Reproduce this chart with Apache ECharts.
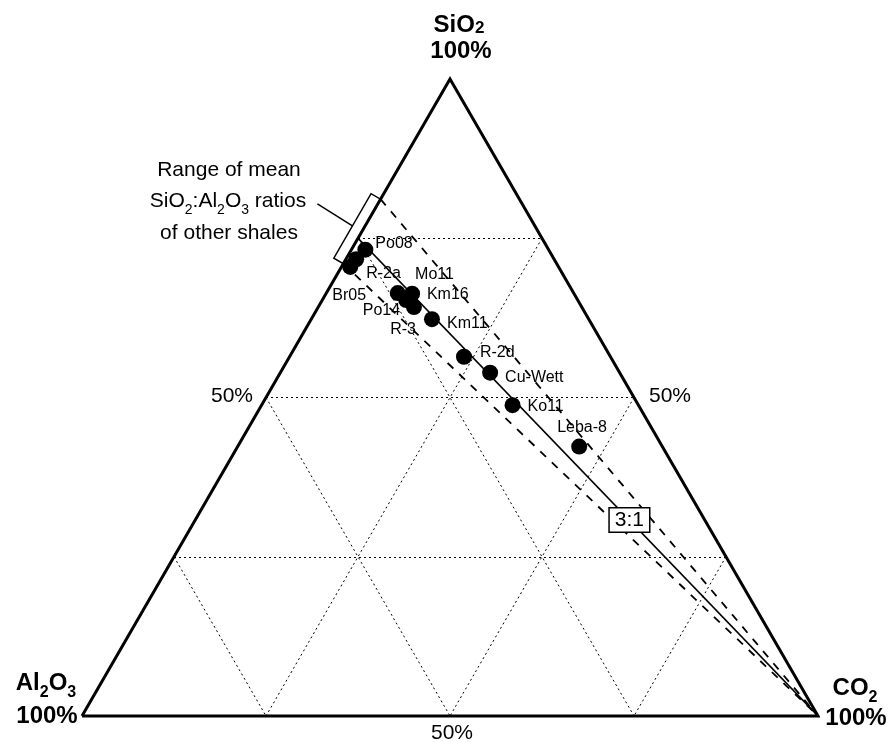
<!DOCTYPE html>
<html>
<head>
<meta charset="utf-8">
<style>
  html, body { margin: 0; padding: 0; background: #fff; }
  #chart { width: 894px; height: 742px; }
</style>
<script src="https://cdn.jsdelivr.net/npm/echarts@6/dist/echarts.min.js"></script>
</head>
<body>
<div id="chart"></div>
<script>
// sample compositions in %
const samples = ['Po08', 'R-2a', 'Br05', 'Po14', 'Mo11', 'R-3', 'Km16', 'Km11', 'R-2d', 'Cu-Wett', 'Ko11', 'Leba-8']
const sio2  = [73.2, 71.7, 70.5, 66.4, 66.3, 65.3, 64.2, 62.3, 56.4, 53.9, 48.8, 42.3]
const al2o3 = [24.9, 26.9, 28.3, 23.9, 22.0, 23.3, 22.8, 21.3, 19.9, 17.6, 17.1, 11.3]
const co2   = [ 1.9,  1.4,  1.2,  9.7, 11.7, 11.4, 13.0, 16.4, 23.7, 28.5, 34.1, 46.4]

const gridLevels = [25, 50, 75]      // dotted guide lines, %
const refRatio = 3                   // SiO2:Al2O3 of the solid line
const shaleRatios = [2.45, 4.3]      // range of mean SiO2:Al2O3 of other shales
const refTagCO2 = 59                 // CO2 % where the "3:1" tag sits

// label offsets (px from dot centre to label left / middle)
const labelOffset = {
  'Po08': [10, -6], 'R-2a': [10, 14], 'Br05': [-18, 29], 'Po14': [-35, 18],
  'Mo11': [3, -19], 'R-3': [-16, 30], 'Km16': [13, -12], 'Km11': [15, 4],
  'R-2d': [16, -4], 'Cu-Wett': [15, 5], 'Ko11': [15, 1], 'Leba-8': [-22, -19]
}

const H = Math.sqrt(3) / 2
// ternary -> cartesian (Al2O3 bottom-left, CO2 bottom-right, SiO2 top)
const tern = (s, a, c) => {
  const t = s + a + c
  return [(c + s / 2) / t * 100, s / t * 100 * H]
}
const onRatio = (r, c) => tern(r / (1 + r) * (100 - c), (100 - c) / (1 + r), c)

const vA = tern(0, 100, 0), vC = tern(0, 0, 100), vS = tern(100, 0, 0)

let guides = []
gridLevels.forEach(k => {
  guides.push({ coords: [tern(k, 100 - k, 0), tern(k, 0, 100 - k)] })
  guides.push({ coords: [tern(100 - k, k, 0), tern(0, k, 100 - k)] })
  guides.push({ coords: [tern(100 - k, 0, k), tern(0, 100 - k, k)] })
})

const dot = 16
const points = samples.map((n, i) => {
  const p = tern(sio2[i], al2o3[i], co2[i])
  const o = labelOffset[n]
  return { name: n, value: p, label: { position: [o[0] + dot / 2, o[1] + dot / 2] } }
})

const font = 'Liberation Sans, Arial, sans-serif'
const txt = (x, y, text, size, bold) => ({
  type: 'text', x: x, y: y, silent: true,
  style: {
    text: text, fill: '#000', fontSize: size, fontFamily: font,
    fontWeight: bold ? 'bold' : 'normal',
    align: 'center', textAlign: 'center',
    verticalAlign: 'middle', textVerticalAlign: 'middle'
  }
})
// subscripts: main token hangs from the line top, sub token sits on a deeper line bottom
const subTxt = (x, y, text, size, bold) => ({
  type: 'text', x: x, y: y + size * 0.125, silent: true,
  style: {
    text: text, fill: '#000', fontSize: size, fontFamily: font,
    align: 'center', textAlign: 'center',
    verticalAlign: 'middle', textVerticalAlign: 'middle',
    rich: {
      n: { fontSize: size, fontFamily: font, fontWeight: bold ? 'bold' : 'normal', lineHeight: size, verticalAlign: 'top' },
      s: { fontSize: Math.round(size * 0.68), fontFamily: font, fontWeight: bold ? 'bold' : 'normal', lineHeight: size * 1.25, verticalAlign: 'bottom' }
    }
  }
})

const chart = echarts.init(document.getElementById('chart'))
chart.setOption({
  animation: false,
  grid: { left: 82, right: 76, top: 79, bottom: 26 },
  xAxis: { type: 'value', min: 0, max: 100, show: false },
  yAxis: { type: 'value', min: 0, max: 100 * H, show: false },
  graphic: [
    {
      type: 'text', x: 459, y: 25, silent: true,
      style: {
        text: '{n|SiO}{s|2}', align: 'center', textAlign: 'center',
        verticalAlign: 'middle', textVerticalAlign: 'middle', fill: '#000',
        rich: {
          n: { fontSize: 24, fontFamily: font, fontWeight: 'bold', lineHeight: 24, verticalAlign: 'bottom' },
          s: { fontSize: 17, fontFamily: font, fontWeight: 'bold', lineHeight: 17, verticalAlign: 'bottom' }
        }
      }
    },
    txt(461, 51, '100%', 24, true),
    subTxt(46, 683, '{n|Al}{s|2}{n|O}{s|3}', 24, true),
    txt(47, 716, '100%', 24, true),
    subTxt(855, 688, '{n|CO}{s|2}', 24, true),
    txt(856, 718, '100%', 24, true),
    txt(232, 396, '50%', 21, false),
    txt(670, 396, '50%', 21, false),
    txt(452, 733, '50%', 21, false),
    txt(229, 170, 'Range of mean', 21, false),
    subTxt(228, 201, '{n|SiO}{s|2}{n|:Al}{s|2}{n|O}{s|3}{n| ratios}', 21, false),
    txt(229, 233, 'of other shales', 21, false)
  ],
  series: [
    {
      type: 'lines', coordinateSystem: 'cartesian2d', silent: true,
      data: guides,
      lineStyle: { color: '#000', width: 1, type: [2, 3], opacity: 1 }
    },
    {
      type: 'lines', coordinateSystem: 'cartesian2d', silent: true,
      data: shaleRatios.map(r => ({ coords: [onRatio(r, 0), vC] })),
      lineStyle: { color: '#000', width: 1.8, type: [8, 8], opacity: 1 }
    },
    {
      type: 'lines', coordinateSystem: 'cartesian2d', silent: true,
      data: [{ coords: [onRatio(refRatio, 0), vC] }],
      lineStyle: { color: '#000', width: 1.8, type: 'solid', opacity: 1 }
    },
    {
      type: 'line', silent: true, clip: false, symbol: 'none',
      data: [vA, vC, vS, vA],
      lineStyle: { color: '#000', width: 3, join: 'miter' }
    },
    {
      type: 'custom', coordinateSystem: 'cartesian2d', silent: true, clip: false,
      data: [0],
      renderItem: (params, api) => {
        const lo = api.coord(onRatio(shaleRatios[0], 0))
        const hi = api.coord(onRatio(shaleRatios[1], 0))
        const dx = hi[0] - lo[0], dy = hi[1] - lo[1], len = Math.hypot(dx, dy)
        const nx = dy / len * 11, ny = -dx / len * 11
        const mx = (lo[0] + hi[0]) / 2 + nx, my = (lo[1] + hi[1]) / 2 + ny
        return {
          type: 'group',
          children: [
            {
              type: 'polygon',
              shape: { points: [lo, hi, [hi[0] + nx, hi[1] + ny], [lo[0] + nx, lo[1] + ny]] },
              style: { fill: 'none', stroke: '#000', lineWidth: 1.5 }
            },
            {
              type: 'line',
              shape: { x1: mx, y1: my, x2: mx - 35, y2: my - 22 },
              style: { stroke: '#000', lineWidth: 1.5 }
            }
          ]
        }
      }
    },
    {
      type: 'scatter', silent: true,
      symbolSize: dot,
      itemStyle: { color: '#000', opacity: 1 },
      data: points,
      label: {
        show: true, formatter: '{b}', color: '#000',
        fontSize: 16, fontFamily: font,
        align: 'left', verticalAlign: 'middle'
      }
    },
    {
      type: 'scatter', silent: true,
      symbolSize: 1, itemStyle: { color: '#fff', opacity: 1 },
      data: [onRatio(refRatio, refTagCO2)],
      label: {
        show: true, position: 'inside', formatter: refRatio + ':1',
        color: '#000', fontSize: 21, fontFamily: font,
        backgroundColor: '#fff', borderColor: '#000', borderWidth: 1.5,
        padding: [2, 5, 0, 5]
      }
    }
  ]
})
</script>
</body>
</html>
